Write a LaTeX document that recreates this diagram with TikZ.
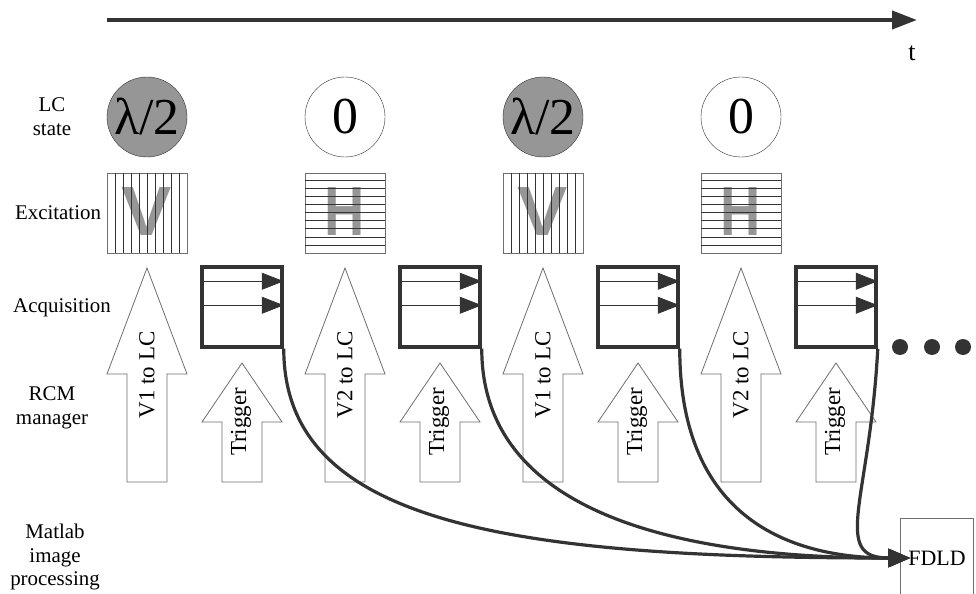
\documentclass[tikz,border=0pt]{standalone}
\usepackage{fontspec}
\setmainfont{Liberation Serif}
\newfontfamily\polfont{Liberation Sans}
\usetikzlibrary{arrows.meta,calc}

\definecolor{drk}{RGB}{51,51,51}
\definecolor{midgray}{RGB}{150,150,150}
\definecolor{edgegray}{RGB}{110,110,110}

\tikzset{
	lab/.style={align=center,font=\fontsize{21}{24}\selectfont},
	lcstate/.style={circle,draw=drk,thin,minimum size=80bp,inner sep=0pt,font=\fontsize{52}{52}\selectfont},
	halfwave/.style={lcstate,fill=midgray},
	polbox/.style={draw=edgegray,thin,minimum size=80bp,inner sep=0pt},
	polletter/.style={text=midgray,font=\polfont\bfseries\fontsize{70}{70}\selectfont,inner sep=0pt},
	hatch/.style={drk,line width=0.6bp},
	acqbox/.style={draw=drk,line width=3.5bp,minimum size=80bp,inner sep=0pt},
	frame/.style={drk,line width=0.8bp,-{Triangle[length=22bp,width=17bp]}},
	bigarrow/.style={draw=edgegray,fill=white,line width=0.8bp},
	arrowtext/.style={rotate=90,font=\fontsize{23}{23}\selectfont,inner sep=0pt},
	transfer/.style={drk,line width=3.2bp,-{Triangle[length=22bp,width=18bp]}},
	timeline/.style={drk,line width=4bp,-{Triangle[length=25bp,width=18bp]}}
}

\begin{document}
\begin{tikzpicture}[x=1bp,y=-1bp]
	\useasboundingbox (0,0) rectangle (976,594);

	% time axis
	\coordinate (t0) at (107,20);
	\coordinate (t1) at (917,20);
	\draw [timeline] (t0) -- (t1);
	\node [font=\fontsize{26}{26}\selectfont] (tlab) at (912,53) {t};

	% row labels
	\node [lab] (rowlc) at (52,117) {LC\\state};
	\node [lab] (rowexc) at (58,213) {Excitation};
	\node [lab] (rowacq) at (62,308) {Acquisition};
	\node [lab] (rowrcm) at (52,408) {RCM\\manager};
	\node [lab] (rowmat) at (55,557) {Matlab\\image\\processing};

	% LC state
	\node [halfwave] (lc1) at (147,117) {λ/2};
	\node [lcstate] (lc2) at (345,117) {0};
	\node [halfwave] (lc3) at (543,117) {λ/2};
	\node [lcstate] (lc4) at (741,117) {0};

	% excitation
	\node [polbox] (ex1) at (147,213) {};
	\node [polletter,xscale=1.08] (pv1) at (147,212) {V};
	\foreach \k in {1,...,9}
		\draw [hatch] ($(ex1.north west)+(8*\k,0)$) -- ($(ex1.south west)+(8*\k,0)$);
	\node [polbox] (ex2) at (345,213) {};
	\node [polletter,xscale=0.8] (ph2) at (345,212) {H};
	\foreach \k in {1,...,9}
		\draw [hatch] ($(ex2.north west)+(0,8*\k)$) -- ($(ex2.north east)+(0,8*\k)$);
	\node [polbox] (ex3) at (543,213) {};
	\node [polletter,xscale=1.08] (pv3) at (543,212) {V};
	\foreach \k in {1,...,9}
		\draw [hatch] ($(ex3.north west)+(8*\k,0)$) -- ($(ex3.south west)+(8*\k,0)$);
	\node [polbox] (ex4) at (741,213) {};
	\node [polletter,xscale=0.8] (ph4) at (741,212) {H};
	\foreach \k in {1,...,9}
		\draw [hatch] ($(ex4.north west)+(0,8*\k)$) -- ($(ex4.north east)+(0,8*\k)$);

	% acquisition
	\node [acqbox] (acq1) at (242,307) {};
	\node [acqbox] (acq2) at (440,307) {};
	\node [acqbox] (acq3) at (638,307) {};
	\node [acqbox] (acq4) at (836,307) {};
	\foreach \a in {acq1,acq2,acq3,acq4} {
		\draw [frame] ([yshift=-16bp]\a.north west) -- ([yshift=-16bp]\a.north east);
		\draw [frame] ([yshift=-40bp]\a.north west) -- ([yshift=-40bp]\a.north east);
	}
	\fill [drk] (900,347) circle (8);
	\fill [drk] (932,347) circle (8);
	\fill [drk] (963,347) circle (8);

	% RCM manager
	\draw [bigarrow] (127,482) -- (127,374) -- (107,374) -- (147,268) -- (187,374) -- (167,374) -- (167,482) -- cycle;
	\node [arrowtext] (cmd1) at (147,375) {V1 to LC};
	\draw [bigarrow] (325,482) -- (325,374) -- (305,374) -- (345,268) -- (385,374) -- (365,374) -- (365,482) -- cycle;
	\node [arrowtext] (cmd2) at (345,375) {V2 to LC};
	\draw [bigarrow] (523,482) -- (523,374) -- (503,374) -- (543,268) -- (583,374) -- (563,374) -- (563,482) -- cycle;
	\node [arrowtext] (cmd3) at (543,375) {V1 to LC};
	\draw [bigarrow] (721,482) -- (721,374) -- (701,374) -- (741,268) -- (781,374) -- (761,374) -- (761,482) -- cycle;
	\node [arrowtext] (cmd4) at (741,375) {V2 to LC};

	\draw [bigarrow] (222,482) -- (222,422) -- (202,422) -- (242,363) -- (282,422) -- (262,422) -- (262,482) -- cycle;
	\node [arrowtext] (trg1) at (241,422) {Trigger};
	\draw [bigarrow] (420,482) -- (420,422) -- (400,422) -- (440,363) -- (480,422) -- (460,422) -- (460,482) -- cycle;
	\node [arrowtext] (trg2) at (439,422) {Trigger};
	\draw [bigarrow] (618,482) -- (618,422) -- (598,422) -- (638,363) -- (678,422) -- (658,422) -- (658,482) -- cycle;
	\node [arrowtext] (trg3) at (637,422) {Trigger};
	\draw [bigarrow] (816,482) -- (816,422) -- (796,422) -- (836,363) -- (876,422) -- (856,422) -- (856,482) -- cycle;
	\node [arrowtext] (trg4) at (835,422) {Trigger};

	% processing
	\node [draw=edgegray,thin,minimum width=73bp,minimum height=80bp,inner sep=0pt,font=\fontsize{22}{22}\selectfont] (fdld) at (937,558) {FDLD};
	\coordinate (fin) at ([xshift=10bp]fdld.west);
	\draw [transfer] (acq1.south east) .. controls +(0,172) and +(-410,0) .. (fin);
	\draw [transfer] (acq2.south east) .. controls +(0,152) and +(-260,0) .. (fin);
	\draw [transfer] (acq3.south east) .. controls +(0,162) and +(-130,0) .. (fin);
	\draw [transfer] (acq4.south east) .. controls +(-8,152) and +(-80,0) .. (fin);
\end{tikzpicture}
\end{document}
